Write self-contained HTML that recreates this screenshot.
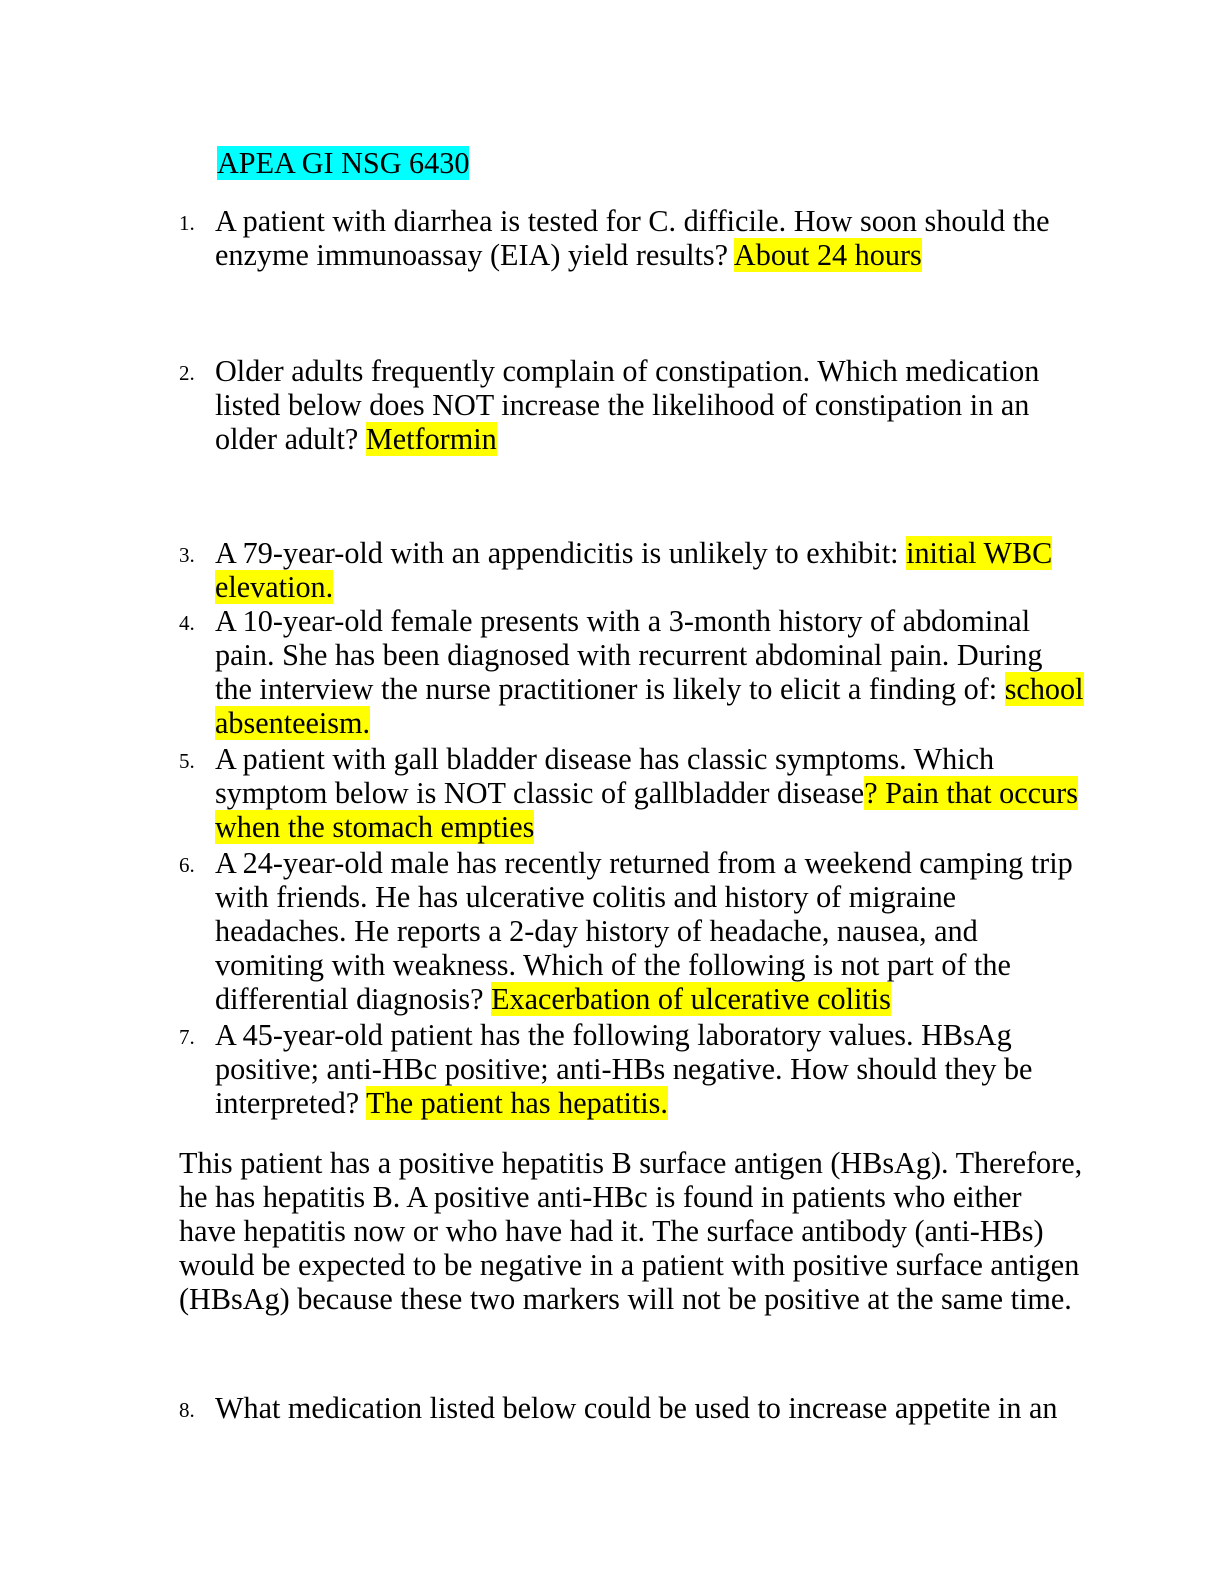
<!DOCTYPE html>
<html><head><meta charset="utf-8"><style>
html,body{margin:0;padding:0;background:#fff;}
body{width:1224px;height:1584px;position:relative;overflow:hidden;font-family:"Liberation Serif",serif;color:#000;}
.l{position:absolute;left:215px;font-size:30.2px;line-height:34px;height:34px;white-space:nowrap;}
.p{left:179px;}
.n{position:absolute;left:179px;font-size:21px;line-height:34px;}
.y{background:#ffff00;}
.c{background:#00ffff;}
</style></head><body>
<div class="l" style="top:146px;left:217px"><span class="c">APEA GI NSG 6430</span></div>

<div class="n" style="top:206px">1.</div>
<div class="l" style="top:204px">A patient with diarrhea is tested for C. difficile. How soon should the</div>
<div class="l" style="top:238px">enzyme immunoassay (EIA) yield results? <span class="y">About 24 hours</span></div>

<div class="n" style="top:356px">2.</div>
<div class="l" style="top:354px">Older adults frequently complain of constipation. Which medication</div>
<div class="l" style="top:388px">listed below does NOT increase the likelihood of constipation in an</div>
<div class="l" style="top:422px">older adult? <span class="y">Metformin</span></div>

<div class="n" style="top:538px">3.</div>
<div class="l" style="top:536px">A 79-year-old with an appendicitis is unlikely to exhibit: <span class="y">initial WBC</span></div>
<div class="l" style="top:570px"><span class="y">elevation.</span></div>

<div class="n" style="top:606px">4.</div>
<div class="l" style="top:604px">A 10-year-old female presents with a 3-month history of abdominal</div>
<div class="l" style="top:638px">pain. She has been diagnosed with recurrent abdominal pain. During</div>
<div class="l" style="top:672px">the interview the nurse practitioner is likely to elicit a finding of: <span class="y">school</span></div>
<div class="l" style="top:706px"><span class="y">absenteeism.</span></div>

<div class="n" style="top:744px">5.</div>
<div class="l" style="top:742px">A patient with gall bladder disease has classic symptoms. Which</div>
<div class="l" style="top:776px">symptom below is NOT classic of gallbladder disease<span class="y">? Pain that occurs</span></div>
<div class="l" style="top:810px"><span class="y">when the stomach empties</span></div>

<div class="n" style="top:848px">6.</div>
<div class="l" style="top:846px">A 24-year-old male has recently returned from a weekend camping trip</div>
<div class="l" style="top:880px">with friends. He has ulcerative colitis and history of migraine</div>
<div class="l" style="top:914px">headaches. He reports a 2-day history of headache, nausea, and</div>
<div class="l" style="top:948px">vomiting with weakness. Which of the following is not part of the</div>
<div class="l" style="top:982px">differential diagnosis? <span class="y">Exacerbation of ulcerative colitis</span></div>

<div class="n" style="top:1020px">7.</div>
<div class="l" style="top:1018px">A 45-year-old patient has the following laboratory values. HBsAg</div>
<div class="l" style="top:1052px">positive; anti-HBc positive; anti-HBs negative. How should they be</div>
<div class="l" style="top:1086px">interpreted? <span class="y">The patient has hepatitis.</span></div>

<div class="l p" style="top:1146px">This patient has a positive hepatitis B surface antigen (HBsAg). Therefore,</div>
<div class="l p" style="top:1180px">he has hepatitis B. A positive anti-HBc is found in patients who either</div>
<div class="l p" style="top:1214px">have hepatitis now or who have had it. The surface antibody (anti-HBs)</div>
<div class="l p" style="top:1248px">would be expected to be negative in a patient with positive surface antigen</div>
<div class="l p" style="top:1282px">(HBsAg) because these two markers will not be positive at the same time.</div>

<div class="n" style="top:1393px">8.</div>
<div class="l" style="top:1391px">What medication listed below could be used to increase appetite in an</div>
</body></html>
